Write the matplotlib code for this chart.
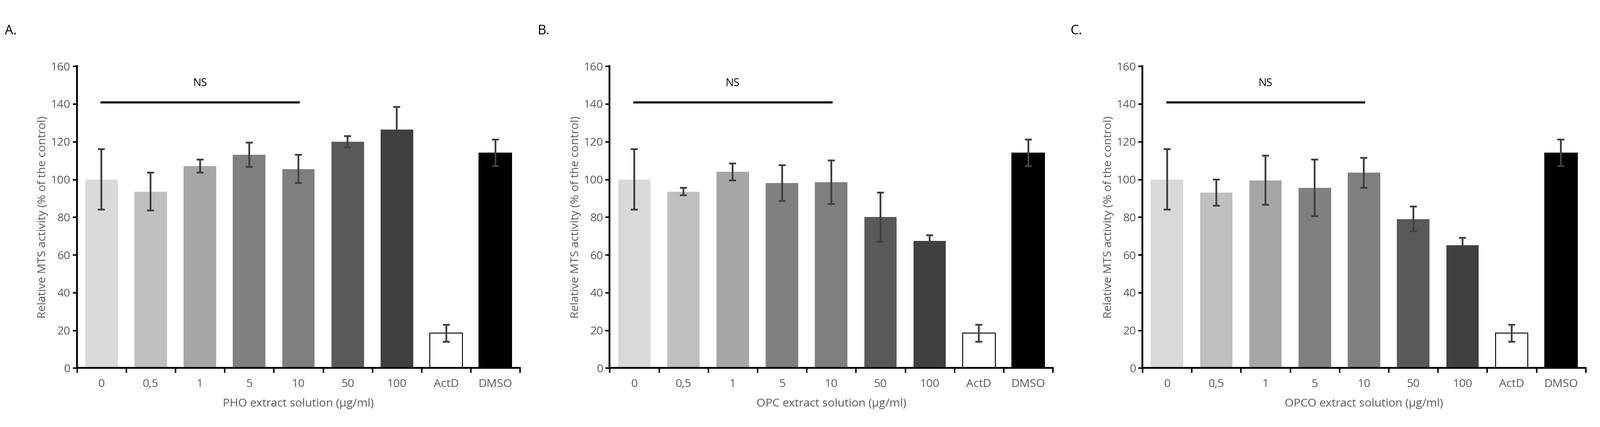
import numpy as np
import matplotlib.pyplot as plt

categories = ["0", "0,5", "1", "5", "10", "50", "100", "ActD", "DMSO"]
pho_mean = [100, 93.5, 107, 113, 105.5, 120, 126.5, 18.5, 114]
pho_err = [16, 10, 3.5, 6.5, 7.5, 3, 12, 4.5, 7]
opc_mean = [100, 93.5, 104, 98, 98.5, 80, 67.5, 18.5, 114]
opc_err = [16, 2, 4.5, 9.5, 11.5, 13, 3, 4.5, 7]
opco_mean = [100, 93, 99.5, 95.5, 103.5, 79, 65, 18.5, 114]
opco_err = [16, 7, 13, 15, 8, 6.5, 4, 4.5, 7]
xlabels = ["PHO extract solution (µg/ml)", "OPC extract solution (µg/ml)",
           "OPCO extract solution (µg/ml)"]
panel_tags = ["A.", "B.", "C."]

colors = ["#d9d9d9", "#bfbfbf", "#a6a6a6", "#808080", "#7f7f7f",
          "#595959", "#404040", "white", "black"]
txt = "#595959"
plt.rcParams["font.family"] = "Open Sans"

fig = plt.figure(figsize=(36.78, 9.82), dpi=100)
lefts = [0.048, 0.381, 0.714]
for i, (m, e) in enumerate([(pho_mean, pho_err), (opc_mean, opc_err), (opco_mean, opco_err)]):
    ax = fig.add_axes([lefts[i], 0.138, 0.277, 0.707])
    x = np.arange(len(categories))
    ax.bar(x, m, width=0.66, color=colors, edgecolor=["none"] * 7 + ["black", "black"], linewidth=1.5)
    ax.errorbar(x, m, yerr=e, fmt="none", ecolor="#404040", elinewidth=3, capsize=6, capthick=3)
    ax.set_xlim(-0.5, 8.5)
    ax.set_ylim(0, 160)
    ax.set_yticks(range(0, 161, 20))
    ax.set_xticks(x)
    ax.set_xticklabels(categories)
    ax.set_xticks(np.arange(-0.5, 9, 1), minor=True)
    ax.tick_params(axis="x", which="major", length=0, pad=18, labelsize=19, labelcolor=txt)
    ax.tick_params(axis="x", which="minor", length=8, width=2.5, direction="out")
    ax.tick_params(axis="y", length=7, width=2.5, labelsize=19, labelcolor=txt)
    for s in ["top", "right"]:
        ax.spines[s].set_visible(False)
    for s in ["left", "bottom"]:
        ax.spines[s].set_linewidth(3)
    ax.set_ylabel("Relative MTS activity (% of the control)", fontsize=19, color=txt)
    ax.set_xlabel(xlabels[i], fontsize=19, color=txt, labelpad=14)
    ax.plot([0, 4], [141, 141], color="black", lw=3.5, clip_on=False)
    ax.text(2, 148, "NS", ha="center", va="bottom", fontsize=18, color="black")
    fig.text(lefts[i] - 0.045, 0.92, panel_tags[i], fontsize=22, color="black")

fig.savefig("out.png", dpi=100, facecolor="white")
